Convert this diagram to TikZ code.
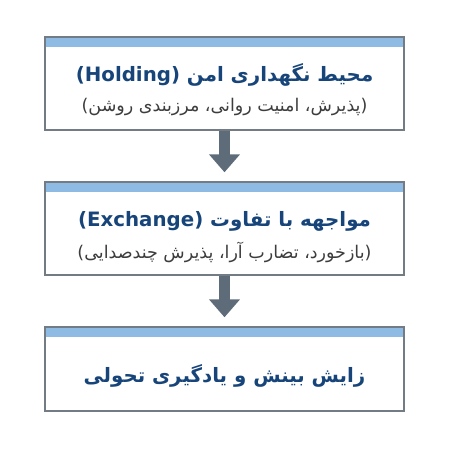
\documentclass[tikz,border=0pt]{standalone}
\usepackage{fontspec}
\usetikzlibrary{arrows.meta}
\TeXXeTstate=1
\newfontfamily\fafont[Script=Arabic]{DejaVu Sans}
\definecolor{boxline}{HTML}{737B84}
\definecolor{bandblue}{HTML}{8DBBE3}
\definecolor{titleblue}{HTML}{17457A}
\definecolor{subgray}{HTML}{3D3D3D}
\definecolor{arrowgray}{HTML}{5E6B78}
\tikzset{
  stagebox/.style={draw=boxline, line width=1.4pt, fill=white, minimum width=359pt, minimum height=93pt,
    path picture={\fill[bandblue] (path picture bounding box.north west) rectangle ([yshift=-10pt]path picture bounding box.north east);}},
  titletext/.style={text=titleblue, font=\fafont\bfseries\fontsize{19.8}{23}\selectfont},
  subtext/.style={text=subgray, font=\fafont\fontsize{17.5}{21}\selectfont},
  flow/.style={draw=arrowgray, line width=11pt, -{Triangle[width=30pt,length=18pt]}, shorten >=9pt}
}
\begin{document}
\begin{tikzpicture}[x=1pt, y=-1pt]
\useasboundingbox (0,0) rectangle (450,450);

\node[stagebox] (hold) at (224.5,83.5) {};
\node[stagebox] (exch) at (224.5,228.5) {};
\node[stagebox, minimum height=84pt] (grow) at (224.5,369) {};

\node[titletext] (holdtitle) at (224.5,75) {\beginR محیط نگهداری امن \beginL(Holding)\endL\endR};
\node[subtext] (holdsub) at (224.5,107) {\beginR(پذیرش، امنیت روانی، مرزبندی روشن)\endR};

\node[titletext] (exchtitle) at (224.5,221) {\beginR مواجهه با تفاوت \beginL(Exchange)\endL\endR};
\node[subtext] (exchsub) at (224.5,252) {\beginR(بازخورد، تضارب آرا، پذیرش چندصدایی)\endR};

\node[titletext] (growtitle) at (224.5,376) {\beginR زایش بینش و یادگیری تحولی\endR};

\draw[flow] (hold.south) -- (exch.north);
\draw[flow] (exch.south) -- (grow.north);
\end{tikzpicture}
\end{document}
